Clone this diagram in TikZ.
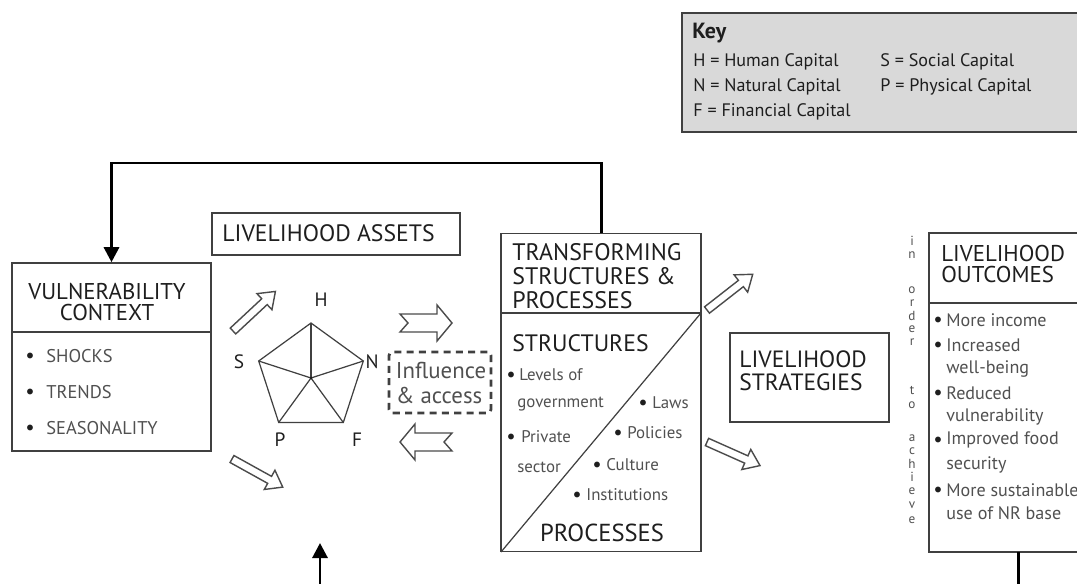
\documentclass[tikz,border=0pt]{standalone}
\usepackage{fontspec}
\setmainfont{PT Sans}
\usetikzlibrary{arrows.meta}

\definecolor{inkdark}{HTML}{1E1E1E}
\definecolor{inkgray}{HTML}{505050}
\definecolor{keyfill}{HTML}{D9D9D9}

\tikzset{
  box/.style={draw=inkdark!85, line width=0.9pt, inner sep=0pt},
  head/.style={text=inkdark, font=\fontsize{13}{13}\selectfont, inner sep=0pt},
  sub/.style={text=inkgray, font=\fontsize{9.6}{10}\selectfont, anchor=west, inner sep=0pt},
  outitem/.style={sub, font=\fontsize{10.3}{11}\selectfont},
  vcitem/.style={text=inkgray, font=\fontsize{10.5}{10.5}\selectfont, anchor=west, inner sep=0pt},
  dot/.style={text=inkdark, font=\fontsize{8.5}{9}\selectfont, inner sep=0pt},
  corner/.style={text=inkdark, font=\fontsize{11}{11}\selectfont, inner sep=0pt},
  vert/.style={text=inkgray, font=\fontsize{7.5}{7.5}\selectfont, inner sep=0pt},
  hollow/.style={draw=inkdark!80, line width=0.8pt, fill=white, line join=miter},
  feedback/.style={line width=1.7pt, -{Triangle[length=0.3cm, width=0.3cm]}},
  slimarrow/.pic={\draw[hollow] (0,-4) -- (43,-4) -- (43,-11) -- (58,0) -- (43,11) -- (43,4) -- (0,4) -- cycle;},
  notcharrow/.pic={\draw[hollow] (0,-9) -- (37,-9) -- (37,-18) -- (52,0) -- (37,18) -- (37,9) -- (0,9) -- (8,0) -- cycle;}
}

\begin{document}
\begin{tikzpicture}[x=0.02cm, y=-0.02cm]
\useasboundingbox (0,0) rectangle (1077,584);

% key
\node[box, fill=keyfill, line width=1.6pt, minimum width=9.4cm, minimum height=2.38cm] (key) at (917,72.5) {};
\node[head, anchor=west, font=\fontsize{12.5}{12.5}\selectfont\bfseries] (keyt) at (692,33) {Key};
\node[sub, text=inkdark, font=\fontsize{10.3}{11}\selectfont] (kh) at (693,62) {H = Human Capital};
\node[sub, text=inkdark, font=\fontsize{10.3}{11}\selectfont] (kn) at (693,87) {N = Natural Capital};
\node[sub, text=inkdark, font=\fontsize{10.3}{11}\selectfont] (kf) at (693,112) {F = Financial Capital};
\node[sub, text=inkdark, font=\fontsize{10.3}{11}\selectfont] (ks) at (880,62) {S = Social Capital};
\node[sub, text=inkdark, font=\fontsize{10.3}{11}\selectfont] (kp) at (880,87) {P = Physical Capital};

% vulnerability context
\node[box, minimum width=3.98cm, minimum height=3.76cm] (vc) at (111.5,357) {};
\draw[inkdark!85, line width=0.9pt] (12,332) coordinate (vcl) -- (211,332) coordinate (vcr);
\node[head, align=center, font=\fontsize{13}{12.5}\selectfont] (vct) at (107,302) {VULNERABILITY\\CONTEXT};
\node[dot] (vb1) at (30,356) {$\bullet$};
\node[dot] (vb2) at (30,392) {$\bullet$};
\node[dot] (vb3) at (30,428) {$\bullet$};
\node[vcitem] (vi1) at (46,356) {SHOCKS};
\node[vcitem] (vi2) at (46,392) {TRENDS};
\node[vcitem] (vi3) at (46,428) {SEASONALITY};

% livelihood assets
\node[box, minimum width=4.96cm, minimum height=0.84cm] (la) at (336,234) {};
\node[head, anchor=west, font=\fontsize{13.5}{13.5}\selectfont] (lat) at (222,233) {LIVELIHOOD ASSETS};

% pentagon
\coordinate (pc) at (311,378);
\coordinate (h) at (311,323);
\coordinate (n) at (363.3,361);
\coordinate (f) at (343.3,422.5);
\coordinate (p) at (278.7,422.5);
\coordinate (s) at (258.7,361);
\draw[inkdark!85, line width=0.7pt] (h) -- (n) -- (f) -- (p) -- (s) -- cycle;
\foreach \v in {h,n,f,p,s}
  \draw[inkdark!85, line width=0.7pt] (pc) -- (\v);
\fill[inkdark] (pc) circle (1.5);
\node[corner] (hl) at (321,300) {H};
\node[corner] (nl) at (372,362) {N};
\node[corner] (fl) at (357,440) {F};
\node[corner] (pl) at (280,440) {P};
\node[corner] (sl) at (239,362) {S};

% hollow arrows round the assets
\pic[rotate=43] at (233,331) {slimarrow};
\pic[rotate=-29] at (232,459) {slimarrow};
\pic at (400,323) {notcharrow};
\pic[rotate=180] at (452,442) {notcharrow};

% influence and access
\node[box, dashed, line width=1.6pt, dash pattern=on 4pt off 3pt, rounded corners=2pt, minimum width=2.04cm, minimum height=1.22cm] (ia) at (440,382.5) {};
\node[head, align=left, text=inkgray, font=\fontsize{13}{14.5}\selectfont] (iat) at (441,383) {Influence\\\& access};

% transforming structures and processes
\node[box, minimum width=4cm, minimum height=6.36cm] (tsp) at (601,392.5) {};
\draw[inkdark!85, line width=0.9pt] (501,313) coordinate (tspl) -- (701,313) coordinate (tspr);
\draw[inkdark!85, line width=0.7pt] (tspr) -- (501,552);
\node[head, anchor=west, align=left, font=\fontsize{13.6}{13.6}\selectfont] (tspt) at (512,276) {TRANSFORMING\\STRUCTURES \&\\PROCESSES};
\node[head, anchor=west, font=\fontsize{13.5}{13.5}\selectfont] (str) at (512,343) {STRUCTURES};
\node[head, font=\fontsize{14}{14}\selectfont] (pro) at (602,533) {PROCESSES};
\node[dot] (tb1) at (511,375) {$\bullet$};
\node[sub] (ti1) at (519,375) {Levels of};
\node[sub] (ti2) at (517,404) {government};
\node[dot] (tb3) at (511,437) {$\bullet$};
\node[sub] (ti3) at (521,437) {Private};
\node[sub] (ti4) at (517,467) {sector};
\node[dot] (tb5) at (643,403) {$\bullet$};
\node[sub] (ti5) at (652,403) {Laws};
\node[dot] (tb6) at (618,433) {$\bullet$};
\node[sub] (ti6) at (627,433) {Policies};
\node[dot] (tb7) at (597,465) {$\bullet$};
\node[sub] (ti7) at (606,465) {Culture};
\node[dot] (tb8) at (577,495) {$\bullet$};
\node[sub] (ti8) at (586,495) {Institutions};

% arrows out of the structures
\pic[rotate=38] at (707,310) {slimarrow};
\pic[rotate=-24] at (707,442) {slimarrow};

% livelihood strategies
\node[box, minimum width=3.18cm, minimum height=1.78cm] (ls) at (809.5,377.5) {};
\node[head, anchor=west, align=left, font=\fontsize{13.4}{13}\selectfont] (lst) at (739,371) {LIVELIHOOD\\STRATEGIES};

% in order to achieve
\foreach \ch/\yy [count=\i] in {i/241, n/255, o/290, r/303, d/316, e/329, r/342, t/390, o/405, a/438, c/451, h/464, i/477, e/491, v/505, e/520}
  \node[vert] (ord\i) at (912,\yy) {\ch};

% livelihood outcomes
\node[box, minimum width=4.42cm, minimum height=6.38cm] (lo) at (1039.5,392.5) {};
\draw[inkdark!85, line width=0.9pt] (929,303) coordinate (lol) -- (1150,303) coordinate (lor);
\node[head, anchor=west, align=left, font=\fontsize{13}{12.5}\selectfont] (lot) at (941,264) {LIVELIHOOD\\OUTCOMES};
\foreach \txt/\yy [count=\i] in {More income/320, Increased/345, Reduced/393, Improved food/440, More sustainable/490}
  {\node[dot] (ob\i) at (938,\yy) {$\bullet$};
   \node[outitem] (oi\i) at (946,\yy) {\txt};}
\node[outitem] (oc1) at (946,369) {well-being};
\node[outitem] (oc2) at (946,417) {vulnerability};
\node[outitem] (oc3) at (946,465) {security};
\node[outitem] (oc4) at (946,513) {use of NR base};

% feedback lines
\draw[feedback] (tsp.north) -- (601,163) coordinate (fbr) -| (vc.north);
\coordinate (botin) at (320,584);
\coordinate (bottip) at (320,543);
\draw[feedback] (botin) -- (bottip);
\coordinate (loout) at (1018,552);
\coordinate (lobot) at (1018,584);
\draw[line width=1.7pt] (loout) -- (lobot);
\end{tikzpicture}
\end{document}
